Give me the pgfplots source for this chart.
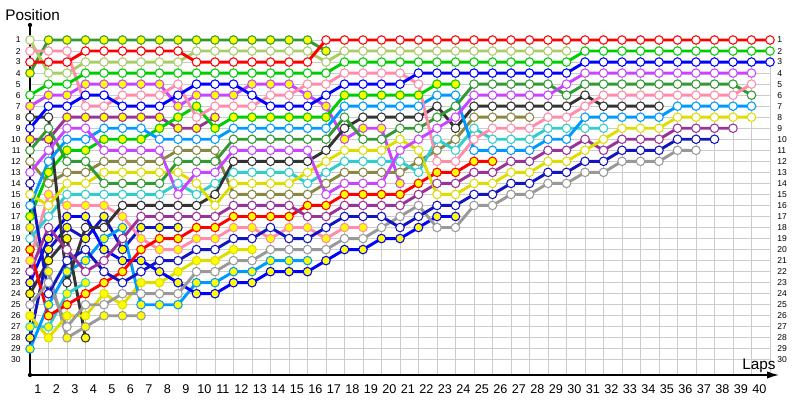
\documentclass[border=0pt]{standalone}
\usepackage{fontspec}
\setmainfont{Liberation Sans}
\usepackage{pgfplots}
\pgfplotsset{compat=1.18}
\usetikzlibrary{arrows.meta}
\definecolor{cRD}{HTML}{FF0000}
\definecolor{cLG}{HTML}{AACC66}
\definecolor{cBG}{HTML}{00CC00}
\definecolor{cBL}{HTML}{0000FF}
\definecolor{cMG}{HTML}{C844FF}
\definecolor{cPK}{HTML}{FF8CAA}
\definecolor{cDG}{HTML}{339933}
\definecolor{cBK}{HTML}{333333}
\definecolor{cLB}{HTML}{0099FF}
\definecolor{cYE}{HTML}{DDDD00}
\definecolor{cPU}{HTML}{993399}
\definecolor{cCY}{HTML}{33CCCC}
\definecolor{cOL}{HTML}{888844}
\definecolor{cDB}{HTML}{1515C0}
\definecolor{cGR}{HTML}{999999}
\definecolor{cFY}{HTML}{FFFF00}
\pgfplotsset{drv/.style 2 args={color=#1, line width=2.2pt, mark=*, mark size=3.2pt,
  mark options={solid, fill=#2, draw=#1, line width=0.8pt}}}
\begin{document}
\begin{tikzpicture}
\begin{axis}[
  x=13.875pt, y=8.2725pt, y dir=reverse,
  xmin=0, xmax=40, ymin=1, ymax=31.37,
  scale only axis, clip=false,
  axis line style={draw=none},
  major tick length=0pt,
  xtick={1,...,40}, ytick={1,...,30},
  grid=major, grid style={draw=black!20, line width=0.6pt},
  /pgf/number format/assume math mode=true,
  xticklabel style={font=\fontsize{9.5}{10}\selectfont, xshift=-7.9pt, yshift=-3.5pt},
  yticklabel style={font=\fontsize{6.4}{7}\selectfont, xshift=-3.5pt},
  table/row sep=\\, table/header=false, table/x expr=\coordindex, table/y index=0,
]
\coordinate (bbA) at (axis cs:-1.6216,-2.6265);
\coordinate (bbB) at (axis cs:41.6216,33.638);
% axes decorations
\draw[black, line width=0.9pt] (axis cs:0,31.37) -- (axis cs:0,-0.36);
\fill[black] (axis cs:0,-0.36) circle (1.6pt);
\fill[black] (axis cs:0,31.37) circle (1.6pt);
\draw[black, line width=1.2pt, -{Latex[length=9pt,width=5.5pt]}] (axis cs:0,31.37) -- (axis cs:40.49,31.37);
\node[anchor=base west, inner sep=0pt, font=\fontsize{11.5}{12}\selectfont] at (axis cs:-1.35,-0.75) {Position};
\node[anchor=base west, inner sep=0pt, font=\fontsize{11.5}{12}\selectfont] at (axis cs:38.49,30.83) {Laps};
\pgfplotsinvokeforeach{1,...,30}{\node[anchor=west, inner sep=0pt, font=\fontsize{6.4}{7}\selectfont] at (axis cs:40.38,#1) {#1};}
% ---- drivers (lap 0 onward) ----
% black yellow
\addplot[drv={cBK}{cFY}] table {24\\21\\19\\28\\};
% cyan yellow
\addplot[drv={cCY}{cFY}] table {27\\27\\24\\23\\};
% gray yellow
\addplot[drv={cGR}{cFY}] table {18\\22\\28\\27\\26\\26\\26\\};
% dark blue yellow
\addplot[drv={cDB}{cFY}] table {28\\20\\18\\19\\17\\20\\18\\18\\18\\};
% purple yellow
\addplot[drv={cPU}{cFY}] table {10\\10\\8\\8\\8\\8\\8\\8\\9\\9\\8\\};
% yellow yellow
\addplot[drv={cYE}{cFY}] table {26\\28\\26\\26\\24\\25\\23\\23\\22\\21\\21\\20\\20\\};
% light blue yellow
\addplot[drv={cLB}{cFY}] table {29\\25\\22\\21\\19\\18\\25\\25\\25\\23\\23\\22\\22\\21\\21\\21\\};
% dark green yellow
\addplot[drv={cDG}{cFY}] table {4\\1\\1\\1\\1\\1\\1\\1\\1\\1\\1\\1\\1\\1\\1\\1\\2\\};
% pink yellow
\addplot[drv={cPK}{cFY}] table {21\\15\\16\\16\\16\\17\\19\\20\\20\\19\\19\\18\\18\\19\\18\\18\\19\\18\\18\\};
% magenta yellow
\addplot[drv={cMG}{cFY}] table {7\\6\\6\\5\\5\\5\\5\\5\\7\\6\\6\\6\\5\\5\\5\\6\\7\\10\\9\\9\\14\\};
% blue yellow
\addplot[drv={cBL}{cFY}] table {23\\19\\17\\17\\20\\21\\21\\22\\23\\24\\24\\23\\23\\22\\22\\22\\21\\20\\20\\19\\19\\18\\17\\17\\};
% bright green yellow
\addplot[drv={cBG}{cFY}] table {17\\13\\11\\11\\10\\10\\10\\9\\8\\7\\9\\8\\8\\8\\8\\8\\8\\6\\6\\6\\6\\6\\5\\5\\};
% red yellow
\addplot[drv={cRD}{cFY}] table {20\\26\\25\\24\\23\\22\\20\\19\\19\\18\\18\\17\\17\\17\\17\\16\\16\\15\\15\\15\\15\\14\\13\\13\\12\\12\\};
% olive white
\addplot[drv={cOL}{white}] table {12\\14\\13\\13\\12\\12\\12\\12\\11\\11\\11\\15\\15\\15\\15\\15\\14\\13\\13\\13\\13\\12\\11\\10\\8\\8\\8\\8\\};
% light green white
\addplot[drv={cLG}{white}] table {1\\4\\4\\3\\3\\3\\3\\3\\3\\2\\2\\2\\2\\2\\2\\2\\3\\2\\2\\2\\2\\2\\2\\2\\2\\2\\2\\2\\2\\2\\};
% cyan white
\addplot[drv={cCY}{white}] table {19\\17\\15\\15\\15\\15\\15\\15\\14\\15\\14\\13\\13\\13\\13\\14\\13\\12\\12\\12\\12\\13\\10\\11\\9\\10\\10\\10\\9\\9\\9\\9\\};
% black white
\addplot[drv={cBK}{white}] table {8\\8\\23\\18\\18\\16\\16\\16\\16\\16\\15\\12\\12\\12\\12\\12\\11\\9\\8\\8\\8\\8\\7\\9\\7\\7\\7\\7\\7\\7\\6\\7\\7\\7\\7\\};
% gray white
\addplot[drv={cGR}{white}] table {25\\23\\27\\25\\25\\24\\24\\24\\24\\22\\22\\21\\21\\20\\20\\20\\20\\19\\19\\18\\17\\16\\18\\18\\16\\16\\15\\15\\14\\14\\13\\13\\12\\12\\12\\11\\11\\};
% dark blue white
\addplot[drv={cDB}{white}] table {14\\24\\21\\20\\22\\23\\22\\21\\21\\20\\20\\19\\19\\18\\19\\19\\18\\17\\17\\17\\18\\17\\16\\16\\15\\15\\14\\14\\13\\13\\12\\12\\11\\11\\11\\10\\10\\10\\};
% purple white
\addplot[drv={cPU}{white}] table {22\\18\\20\\22\\21\\19\\17\\17\\17\\17\\17\\16\\16\\16\\16\\17\\17\\16\\16\\16\\16\\15\\14\\14\\13\\13\\12\\12\\11\\11\\10\\11\\10\\10\\10\\9\\9\\9\\9\\};
% yellow white
\addplot[drv={cYE}{white}] table {15\\16\\14\\14\\13\\13\\13\\13\\13\\14\\16\\14\\14\\14\\14\\13\\12\\11\\11\\11\\10\\11\\15\\15\\14\\14\\13\\13\\12\\12\\11\\10\\9\\9\\9\\8\\8\\8\\8\\8\\};
% light blue white
\addplot[drv={cLB}{white}] table {16\\12\\10\\10\\9\\9\\9\\10\\10\\10\\10\\9\\9\\9\\9\\9\\9\\7\\7\\7\\7\\7\\6\\6\\11\\11\\11\\11\\10\\10\\8\\8\\8\\8\\8\\7\\7\\7\\7\\7\\};
% dark green white
\addplot[drv={cDG}{white}] table {11\\9\\12\\12\\14\\14\\14\\14\\12\\12\\12\\10\\10\\10\\10\\10\\10\\8\\10\\10\\9\\9\\8\\7\\5\\5\\5\\5\\5\\6\\5\\5\\5\\5\\5\\5\\5\\5\\5\\6\\};
% pink white
\addplot[drv={cPK}{white}] table {2\\2\\2\\7\\7\\6\\6\\6\\5\\8\\7\\7\\7\\6\\6\\5\\5\\4\\4\\4\\4\\5\\12\\12\\10\\9\\9\\9\\8\\8\\7\\6\\6\\6\\6\\6\\6\\6\\6\\5\\};
% magenta white
\addplot[drv={cMG}{white}] table {13\\11\\9\\9\\11\\11\\11\\11\\15\\13\\13\\11\\11\\11\\11\\11\\15\\14\\14\\14\\11\\10\\9\\8\\6\\6\\6\\6\\6\\5\\4\\4\\4\\4\\4\\4\\4\\4\\4\\4\\};
% blue white
\addplot[drv={cBL}{white}] table {9\\7\\7\\6\\6\\7\\7\\7\\6\\5\\5\\5\\6\\7\\7\\7\\6\\5\\5\\5\\5\\4\\4\\4\\4\\4\\4\\4\\4\\4\\3\\3\\3\\3\\3\\3\\3\\3\\3\\3\\3\\};
% bright green white
\addplot[drv={cBG}{white}] table {6\\5\\5\\4\\4\\4\\4\\4\\4\\4\\4\\4\\4\\4\\4\\4\\4\\3\\3\\3\\3\\3\\3\\3\\3\\3\\3\\3\\3\\3\\2\\2\\2\\2\\2\\2\\2\\2\\2\\2\\2\\};
% red white
\addplot[drv={cRD}{white}] table {3\\3\\3\\2\\2\\2\\2\\2\\2\\3\\3\\3\\3\\3\\3\\3\\1\\1\\1\\1\\1\\1\\1\\1\\1\\1\\1\\1\\1\\1\\1\\1\\1\\1\\1\\1\\1\\1\\1\\1\\1\\};
\end{axis}
\pgfresetboundingbox
\path (bbA) rectangle (bbB);
\end{tikzpicture}
\end{document}
